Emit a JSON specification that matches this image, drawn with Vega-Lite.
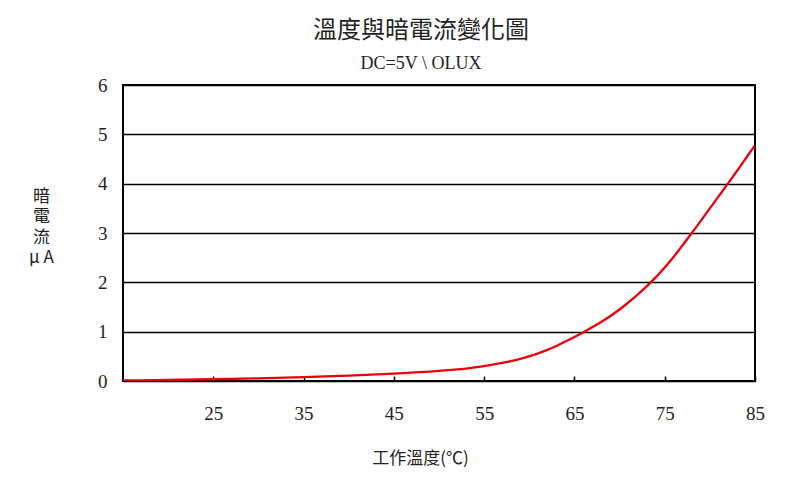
{
  "$schema": "https://vega.github.io/schema/vega-lite/v6.json",
  "width": 632,
  "height": 296,
  "autosize": {"type": "none"},
  "padding": {"left": 123, "top": 85, "right": 45, "bottom": 101},
  "background": "white",
  "title": {
    "text": "溫度與暗電流變化圖",
    "subtitle": "DC=5V \\ OLUX",
    "anchor": "middle",
    "frame": "group",
    "dx": -18,
    "offset": 3,
    "font": "Noto Sans CJK TC",
    "fontSize": 24,
    "fontWeight": "normal",
    "color": "#222",
    "subtitleFont": "Liberation Serif",
    "subtitleFontSize": 18,
    "subtitleColor": "#222",
    "subtitlePadding": 12
  },
  "data": {
    "values": [
      {"t": 15, "i": 0.01},
      {"t": 20, "i": 0.02},
      {"t": 25, "i": 0.035},
      {"t": 30, "i": 0.055},
      {"t": 35, "i": 0.08},
      {"t": 40, "i": 0.11},
      {"t": 45, "i": 0.15},
      {"t": 50, "i": 0.205},
      {"t": 53, "i": 0.25},
      {"t": 55, "i": 0.3},
      {"t": 57, "i": 0.365},
      {"t": 59, "i": 0.45},
      {"t": 61, "i": 0.56},
      {"t": 62, "i": 0.63},
      {"t": 63, "i": 0.71},
      {"t": 64, "i": 0.8},
      {"t": 66, "i": 0.99},
      {"t": 68, "i": 1.2},
      {"t": 70, "i": 1.45},
      {"t": 72, "i": 1.75},
      {"t": 74, "i": 2.1},
      {"t": 76, "i": 2.52},
      {"t": 78, "i": 3.0},
      {"t": 80, "i": 3.5},
      {"t": 82, "i": 4.0},
      {"t": 85, "i": 4.78}
    ]
  },
  "mark": {"type": "line", "color": "#e8000b", "strokeWidth": 2.3, "interpolate": "monotone", "clip": true},
  "encoding": {
    "x": {
      "field": "t",
      "type": "quantitative",
      "scale": {"domain": [15, 85], "nice": false, "zero": false},
      "axis": {
        "values": [25, 35, 45, 55, 65, 75, 85],
        "grid": false,
        "domain": false,
        "ticks": true,
        "tickSize": -5,
        "tickColor": "#000",
        "tickWidth": 1.5,
        "labelFont": "Liberation Serif",
        "labelFontSize": 19,
        "labelColor": "#222",
        "labelPadding": 28,
        "labelFlush": false,
        "title": "工作溫度(℃)",
        "titleFont": "Noto Sans CJK TC",
        "titleFontSize": 17,
        "titleFontWeight": "normal",
        "titleColor": "#222",
        "titleX": 297,
        "titleY": 77,
        "titleAlign": "center",
        "titleBaseline": "middle"
      }
    },
    "y": {
      "field": "i",
      "type": "quantitative",
      "scale": {"domain": [0, 6], "nice": false},
      "axis": {
        "values": [0, 1, 2, 3, 4, 5, 6],
        "grid": true,
        "gridColor": "#000",
        "gridWidth": 1.5,
        "gridOpacity": 1,
        "domain": false,
        "ticks": false,
        "labelFont": "Liberation Serif",
        "labelFontSize": 19,
        "labelColor": "#222",
        "labelPadding": 16,
        "title": ["暗", "電", "流", "μ A"],
        "titleFont": "Noto Sans CJK TC",
        "titleFontSize": 17,
        "titleLineHeight": 20.5,
        "titleFontWeight": "normal",
        "titleColor": "#222",
        "titleAngle": 0,
        "titleX": -82,
        "titleY": 111,
        "titleAlign": "center",
        "titleBaseline": "middle"
      }
    }
  },
  "config": {
    "view": {"stroke": "#000", "strokeWidth": 2}
  }
}
